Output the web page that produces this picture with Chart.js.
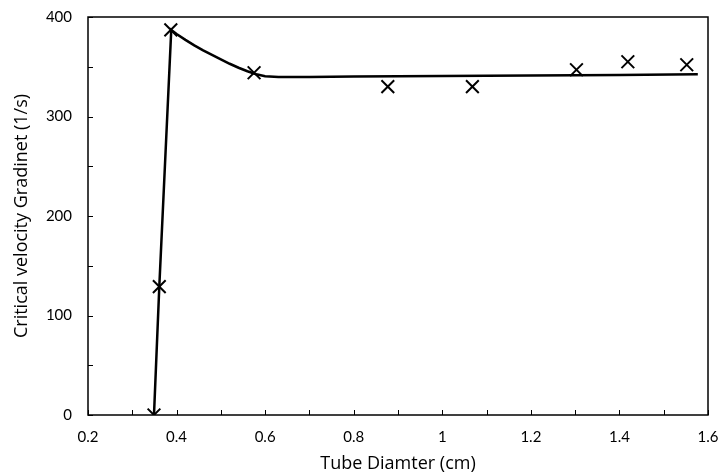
<!DOCTYPE html>
<html>
<head>
<meta charset="utf-8">
<script src="https://cdn.jsdelivr.net/npm/chart.js@4.4.1/dist/chart.umd.min.js"></script>
<style>
  html, body { margin: 0; padding: 0; background: #fff; }
  #wrap { width: 722px; height: 476px; }
</style>
</head>
<body>
<div id="wrap"><canvas id="chart" width="722" height="476"></canvas></div>
<script>
// measured points (Tube diameter cm, critical velocity gradient 1/s)
const diamX = [0.349, 0.361, 0.387, 0.575, 0.877, 1.068, 1.303, 1.419, 1.552];
const gradY = [0, 129, 387, 344, 330, 330, 347, 355, 352];

// fitted curve
const fitX = [0.349, 0.361, 0.388, 0.40, 0.42, 0.44, 0.46, 0.48, 0.50, 0.52, 0.54, 0.56, 0.58, 0.60, 0.63, 0.7, 0.8, 1.0, 1.2, 1.4, 1.577];
const fitY = [0, 129, 387, 383, 377, 371.5, 366.5, 362, 357.5, 353, 349, 345.5, 342.5, 340.5, 339.8, 339.8, 340.2, 340.7, 341.2, 341.8, 342.4];

const xTicks = [0.2, 0.4, 0.6, 0.8, 1, 1.2, 1.4, 1.6];
const yTicks = [0, 100, 200, 300, 400];

const FONT = "Lato, 'Open Sans', sans-serif";
const TITLE_FONT = "'Open Sans', Lato, sans-serif";

// inside tick marks (major + minor), drawn through the scales
const insideTicks = {
  id: "insideTicks",
  afterDraw(chart) {
    const ctx = chart.ctx;
    const xs = chart.scales.x, ys = chart.scales.y;
    const area = chart.chartArea;
    ctx.save();
    ctx.strokeStyle = "#000";
    ctx.lineWidth = 1;
    ctx.beginPath();
    for (let v = 0.2; v <= 1.6001; v += 0.1) {
      const px = Math.round(xs.getPixelForValue(v)) + 0.5;
      ctx.moveTo(px, area.bottom);
      ctx.lineTo(px, area.bottom - 5);
    }
    for (let v = 0; v <= 400; v += 50) {
      const py = Math.round(ys.getPixelForValue(v)) + 0.5;
      ctx.moveTo(area.left, py);
      ctx.lineTo(area.left + 5, py);
    }
    ctx.stroke();
    ctx.lineWidth = 1.5;
    ctx.strokeRect(area.left, area.top, area.right - area.left, area.bottom - area.top);
    ctx.restore();
  }
};

new Chart(document.getElementById("chart"), {
  type: "scatter",
  data: {
    datasets: [
      {
        label: "fit",
        type: "line",
        data: fitX.map((x, i) => ({ x: x, y: fitY[i] })),
        borderColor: "#000",
        borderWidth: 2.5,
        pointRadius: 0,
        tension: 0,
        fill: false
      },
      {
        label: "data",
        data: diamX.map((x, i) => ({ x: x, y: gradY[i] })),
        pointStyle: "crossRot",
        pointRadius: 9,
        borderColor: "#000",
        backgroundColor: "#000",
        borderWidth: 2
      }
    ]
  },
  options: {
    responsive: false,
    animation: false,
    layout: { padding: { left: 0, right: 14, top: 17, bottom: 0 } },
    plugins: { legend: { display: false }, tooltip: { enabled: false } },
    scales: {
      x: {
        type: "linear",
        min: 0.2,
        max: 1.6,
        afterBuildTicks: (s) => { s.ticks = xTicks.map(v => ({ value: v })); },
        afterFit: (s) => { s.height = 61; },
        grid: { display: true, drawOnChartArea: false, drawTicks: true, tickLength: 11, color: "transparent" },
        border: { display: false },
        ticks: {
          padding: 2,
          color: "#000",
          font: { family: FONT, size: 15 },
          callback: (v) => String(Math.round(v * 10) / 10)
        },
        title: {
          display: true,
          text: "Tube Diamter (cm)",
          color: "#000",
          font: { family: TITLE_FONT, size: 18 },
          padding: { top: 2, bottom: 1 }
        }
      },
      y: {
        min: 0,
        max: 400,
        afterBuildTicks: (s) => { s.ticks = yTicks.map(v => ({ value: v })); },
        afterFit: (s) => { s.width = 88; },
        grid: { display: true, drawOnChartArea: false, drawTicks: true, tickLength: 14, color: "transparent" },
        border: { display: false },
        ticks: {
          padding: 2,
          color: "#000",
          font: { family: FONT, size: 15 }
        },
        title: {
          display: true,
          text: "Critical velocity Gradinet (1/s)",
          color: "#000",
          font: { family: TITLE_FONT, size: 18 },
          padding: { top: 11, bottom: 4 }
        }
      }
    }
  },
  plugins: [insideTicks]
});
</script>
</body>
</html>
